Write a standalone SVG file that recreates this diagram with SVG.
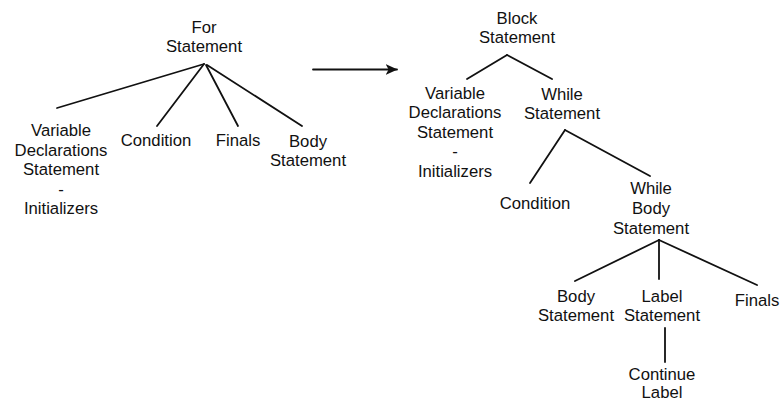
<svg xmlns="http://www.w3.org/2000/svg" width="781" height="402" viewBox="0 0 781 402">
  <style>
    text { font-family: "Liberation Sans", Arial, sans-serif; font-size: 16.7px; fill: #111; text-anchor: middle; }
    .edge { stroke: #111; stroke-width: 1.8; fill: none; stroke-linecap: round; }
  </style>
  <defs>
    <marker id="arrow" viewBox="0 0 10 10" refX="9.5" refY="5" markerWidth="12" markerHeight="12" orient="auto" markerUnits="userSpaceOnUse">
      <path d="M0,0.5 L10,5 L0,9.5 L2.5,5 Z" fill="#111"/>
    </marker>
  </defs>
  <rect width="781" height="402" fill="#fff"/>

  <g id="connectors">
    <!-- For Statement -->
    <line class="edge" x1="204" y1="64" x2="57" y2="108"/>
    <line class="edge" x1="204" y1="64" x2="157" y2="126"/>
    <line class="edge" x1="206" y1="65" x2="238" y2="126"/>
    <line class="edge" x1="207" y1="65" x2="302" y2="126"/>
    <!-- transformation arrow -->
    <line class="edge" x1="313" y1="69.5" x2="397" y2="69.5" marker-end="url(#arrow)"/>
    <!-- Block Statement -->
    <line class="edge" x1="507" y1="55" x2="467" y2="79"/>
    <line class="edge" x1="507" y1="55" x2="552" y2="79"/>
    <!-- While Statement -->
    <line class="edge" x1="565" y1="130" x2="530" y2="183"/>
    <line class="edge" x1="565" y1="130" x2="650" y2="176"/>
    <!-- While Body Statement -->
    <line class="edge" x1="659" y1="240" x2="575" y2="281"/>
    <line class="edge" x1="659" y1="240" x2="659" y2="279"/>
    <line class="edge" x1="659" y1="240" x2="757" y2="285"/>
    <!-- Label Statement -->
    <line class="edge" x1="665" y1="328" x2="665" y2="362"/>
  </g>

  <g id="for-statement"><text x="204" y="33">For</text><text x="204" y="52">Statement</text></g>
  <g id="for-vardecl">
    <text x="61" y="136">Variable</text><text x="61" y="156">Declarations</text>
    <text x="61" y="175">Statement</text><text x="61" y="195">-</text><text x="61" y="214">Initializers</text>
  </g>
  <g id="for-condition"><text x="156" y="146">Condition</text></g>
  <g id="for-finals"><text x="238" y="146">Finals</text></g>
  <g id="for-body"><text x="308" y="147">Body</text><text x="308" y="166">Statement</text></g>

  <g id="block-statement"><text x="517" y="24">Block</text><text x="517" y="43">Statement</text></g>
  <g id="block-vardecl">
    <text x="455" y="99">Variable</text><text x="455" y="118">Declarations</text>
    <text x="455" y="138">Statement</text><text x="455" y="157">-</text><text x="455" y="177">Initializers</text>
  </g>
  <g id="while-statement"><text x="562" y="100">While</text><text x="562" y="119">Statement</text></g>
  <g id="while-condition"><text x="535" y="209">Condition</text></g>
  <g id="while-body"><text x="651" y="194">While</text><text x="651" y="214">Body</text><text x="651" y="234">Statement</text></g>
  <g id="body-statement"><text x="576" y="302">Body</text><text x="576" y="321">Statement</text></g>
  <g id="label-statement"><text x="662" y="302">Label</text><text x="662" y="321">Statement</text></g>
  <g id="while-finals"><text x="757" y="306">Finals</text></g>
  <g id="continue-label"><text x="662" y="380">Continue</text><text x="662" y="398">Label</text></g>
</svg>
